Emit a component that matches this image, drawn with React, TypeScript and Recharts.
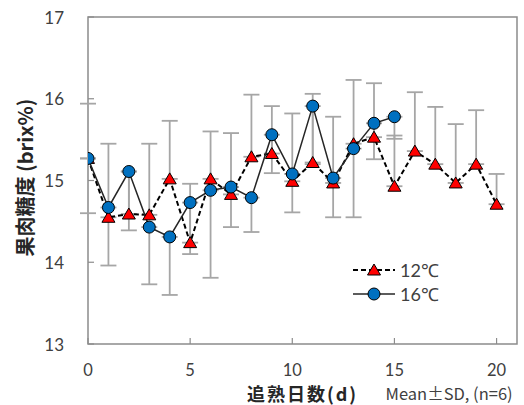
import React from 'react';
import { LineChart, Line, XAxis, YAxis, ErrorBar, ReferenceArea, Label } from 'recharts';

// ripening days and flesh sugar content (brix%), mean and SD (n=6)
const days = [0, 1, 2, 3, 4, 5, 6, 7, 8, 9, 10, 11, 12, 13, 14, 15, 16, 17, 18, 19, 20];
const brix12 = [15.27, 14.55, 14.59, 14.58, 15.02, 14.24, 15.02, 14.83, 15.29, 15.33, 14.99, 15.22, 14.97, 15.45, 15.53, 14.93, 15.36, 15.2, 14.97, 15.2, 14.71];
const sd12 = [0.67, 0.9, 0.52, 0.87, 0.71, 0.72, 0.58, 0.75, 0.76, 0.58, 0.83, 0.84, 0.81, 0.78, 0.66, 0.62, 0.72, 0.7, 0.72, 0.66, 0.37];
const brix16 = [15.27, 14.67, 15.11, 14.43, 14.31, 14.73, 14.88, 14.92, 14.79, 15.56, 15.08, 15.91, 15.03, 15.39, 15.7, 15.78];
const sd16 = [0.67, 0.71, 0.72, 0.7, 0.71, 0.63, 1.07, 0.49, 0.42, 0.47, 0.47, 0.71, 0.48, 0.84, 0.44, 0.27];

const xTicks = [0, 5, 10, 15, 20];
const yTicks = [13, 14, 15, 16, 17];

// 12℃ shows +SD only, 16℃ shows -SD only
const data12 = days.map((d, i) => ({ day: d, v: brix12[i], err: [0, sd12[i]] }));
const data16 = brix16.map((v, i) => ({ day: days[i], v, err: [sd16[i], 0] }));

const frame = '#8c8c8c';
const textColor = '#404040';
const numFont = 'Lato, "Noto Sans", sans-serif';
const jpFont = '"Noto Sans CJK JP", "Noto Sans", sans-serif';

const Triangle = (p: any) => {
  const { cx, cy, index } = p;
  if (cx == null || cy == null) return null;
  return (
    <path
      key={`t${index}`}
      d={`M${cx},${cy - 6} L${cx + 6.5},${cy + 5} L${cx - 6.5},${cy + 5} Z`}
      fill="#ff0000"
      stroke="#000"
      strokeWidth={1}
    />
  );
};

const Circle = (p: any) => {
  const { cx, cy, index } = p;
  if (cx == null || cy == null) return null;
  return <circle key={`c${index}`} cx={cx} cy={cy} r={6} fill="#0070c0" stroke="#000" strokeWidth={1} />;
};

const XTick = ({ x, y, payload }: any) => (
  <g>
    <line x1={x} x2={x} y1={y} y2={y - 6} stroke={frame} strokeWidth={1.2} />
    <text x={x} y={y + 26} textAnchor="middle" dominantBaseline="central" fontSize={16.5} fontFamily={numFont} fill={textColor}>
      {payload.value}
    </text>
  </g>
);

const YTick = ({ x, y, payload }: any) => (
  <g>
    <line x1={x} x2={x + 6} y1={y} y2={y} stroke={frame} strokeWidth={1.2} />
    <text x={x - 24} y={y} textAnchor="end" dominantBaseline="central" fontSize={17} fontFamily={numFont} fill={textColor}>
      {payload.value}
    </text>
  </g>
);

const XTitle = ({ viewBox }: any) => {
  const cx = viewBox.x + viewBox.width / 2;
  const y = viewBox.y + 49;
  return (
    <g>
      <text x={cx} y={y} textAnchor="middle" dominantBaseline="central" fontSize={18} fontWeight="bold" fontFamily={jpFont} fill="#262626" letterSpacing={2}>
        追熟日数(d)
      </text>
      <text x={cx + 83} y={y} dominantBaseline="central" fontSize={16.5} fontFamily={jpFont} fill={textColor}>
        Mean±SD, (n=6)
      </text>
    </g>
  );
};

const YTitle = ({ viewBox }: any) => {
  const x = 24;
  const y = viewBox.y + viewBox.height / 2 - 3;
  return (
    <text x={x} y={y} transform={`rotate(-90 ${x} ${y})`} textAnchor="middle" dominantBaseline="central" fontSize={20} fontWeight="bold" fontFamily={jpFont} fill="#262626">
      果肉糖度 (brix%)
    </text>
  );
};

const LegendBox = () => (
  <div style={{ position: 'absolute', left: 350, top: 257, width: 110 }}>
    <svg width={110} height={50}>
      <line x1={3} x2={45} y1={13} y2={13} stroke="#000" strokeWidth={2} strokeDasharray="5 3" />
      <path d="M24,7 L30.5,18 L17.5,18 Z" fill="#ff0000" stroke="#000" strokeWidth={1} />
      <text x={50} y={13} dominantBaseline="central" fontSize={18} fontFamily={numFont} fill={textColor}>12℃</text>
      <line x1={3} x2={45} y1={37} y2={37} stroke="#262626" strokeWidth={1.5} />
      <circle cx={24} cy={37} r={6} fill="#0070c0" stroke="#000" strokeWidth={1} />
      <text x={50} y={37} dominantBaseline="central" fontSize={18} fontFamily={numFont} fill={textColor}>16℃</text>
    </svg>
  </div>
);

export default function App() {
  return (
    <div style={{ position: 'absolute', left: 0, top: 0, width: 524, height: 405, background: '#fff' }}>
      <LineChart width={524} height={405} margin={{ top: 17, right: 7, bottom: 0, left: 0 }}>
        <XAxis
          type="number"
          dataKey="day"
          domain={[0, 21]}
          ticks={xTicks}
          allowDataOverflow
          height={61}
          axisLine={false}
          tickLine={false}
          tickSize={0}
          tickMargin={0}
          tick={<XTick />}
        >
          <Label content={<XTitle />} />
        </XAxis>
        <YAxis
          type="number"
          domain={[13, 17]}
          ticks={yTicks}
          allowDataOverflow
          width={88}
          axisLine={false}
          tickLine={false}
          tickSize={0}
          tickMargin={0}
          tick={<YTick />}
        >
          <Label content={<YTitle />} />
        </YAxis>
        <ReferenceArea x1={0} x2={21} y1={13} y2={17} fill="none" stroke={frame} strokeWidth={1.5} />
        {/* error bars first so the lines and markers sit on top */}
        <Line data={data12} dataKey="v" stroke="none" dot={false} activeDot={false} legendType="none" isAnimationActive={false}>
          <ErrorBar dataKey="err" direction="y" width={8} stroke="#a6a6a6" strokeWidth={1.8} />
        </Line>
        <Line data={data16} dataKey="v" stroke="none" dot={false} activeDot={false} legendType="none" isAnimationActive={false}>
          <ErrorBar dataKey="err" direction="y" width={8} stroke="#a6a6a6" strokeWidth={1.8} />
        </Line>
        <Line data={data12} dataKey="v" name="12℃" stroke="#000" strokeWidth={2} strokeDasharray="5 3" dot={<Triangle />} activeDot={false} isAnimationActive={false} />
        <Line data={data16} dataKey="v" name="16℃" stroke="#262626" strokeWidth={1.5} dot={<Circle />} activeDot={false} isAnimationActive={false} />
      </LineChart>
      <LegendBox />
    </div>
  );
}
